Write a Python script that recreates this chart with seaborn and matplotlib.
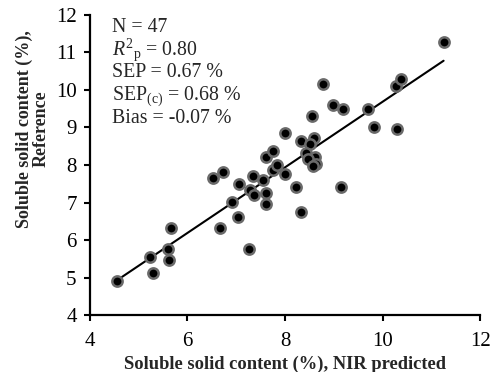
import numpy as np
import pandas as pd
import matplotlib
matplotlib.use("Agg")
import matplotlib.pyplot as plt
import seaborn as sns

# NIR predicted vs reference soluble solid content (%)
predicted = [4.55, 5.23, 5.30, 5.61, 5.63, 5.66, 6.53, 6.72, 6.67, 6.91,
             7.06, 7.03, 7.27, 7.28, 7.35, 7.37, 7.54, 7.60, 7.75, 7.62,
             7.62, 7.76, 7.83, 8.00, 7.99, 8.32, 8.59, 8.52, 8.42, 8.61,
             8.48, 8.64, 8.58, 8.22, 8.33, 9.15, 8.55, 8.77, 8.99, 9.18,
             9.71, 9.83, 10.30, 10.28, 10.38, 11.25]
reference = [4.90, 5.56, 5.11, 5.76, 5.47, 6.31, 7.65, 7.80, 6.31, 7.01,
             7.50, 6.61, 5.76, 7.32, 7.71, 7.21, 7.60, 8.21, 8.36, 7.26,
             6.96, 7.86, 8.01, 7.76, 8.86, 8.65, 8.71, 8.56, 8.31, 8.22,
             8.15, 8.02, 7.96, 7.41, 6.76, 7.41, 9.31, 10.15, 9.59, 9.50,
             9.50, 9.00, 8.95, 10.11, 10.29, 11.29]
stats_lines = ["N = 47",
               r"$R^{2}{}_{\mathrm{p}}$ = 0.80",
               "SEP = 0.67 %",
               r"SEP$_{\mathrm{(c)}}$ = 0.68 %",
               "Bias = -0.07 %"]
x_ticks = [4, 6, 8, 10, 12]
y_ticks = [4, 5, 6, 7, 8, 9, 10, 11, 12]

df = pd.DataFrame({"pred": predicted, "ref": reference})

sns.set_theme(style="white")
plt.rcParams["font.family"] = ["Liberation Serif", "DejaVu Serif"]
plt.rcParams["mathtext.fontset"] = "custom"
plt.rcParams["mathtext.rm"] = "Liberation Serif"
plt.rcParams["mathtext.it"] = "Liberation Serif:italic"
plt.rcParams["mathtext.bf"] = "Liberation Serif:bold"

fig = plt.figure(figsize=(4.91, 3.72), dpi=100)
ax = fig.add_axes([0.183, 0.153, 0.795, 0.807])

sns.regplot(data=df, x="pred", y="ref", ax=ax, ci=None, truncate=True,
            scatter_kws=dict(s=55, color="black", edgecolors="#6a6a6a",
                             linewidths=1.8, alpha=1, zorder=3),
            line_kws=dict(color="black", lw=1.5, zorder=2))

ax.set_xlim(4, 12)
ax.set_ylim(4, 12)
ax.set_xticks(x_ticks)
ax.set_yticks(y_ticks)
ax.tick_params(axis="both", direction="out", length=4.5, width=1.5,
               labelsize=15, colors="black", bottom=True, left=True)
ax.tick_params(axis="x", pad=8)
ax.tick_params(axis="y", pad=5)
for s in ["top", "right"]:
    ax.spines[s].set_visible(False)
for s in ["left", "bottom"]:
    ax.spines[s].set_color("black")
    ax.spines[s].set_linewidth(1.6)

ax.set_xlabel("Soluble solid content (%), NIR predicted", fontsize=13.3,
              fontweight="bold", labelpad=3)
ax.set_ylabel("Soluble solid content (%),\nReference", fontsize=13,
              fontweight="bold", linespacing=1.0)
ax.yaxis.set_label_coords(-0.103, 0.62)

for i, t in enumerate(stats_lines):
    ax.text(0.057, 0.943 - i * 0.0757, t, transform=ax.transAxes,
            fontsize=14.3, va="baseline", ha="left")

fig.savefig("out.png", dpi=100)
